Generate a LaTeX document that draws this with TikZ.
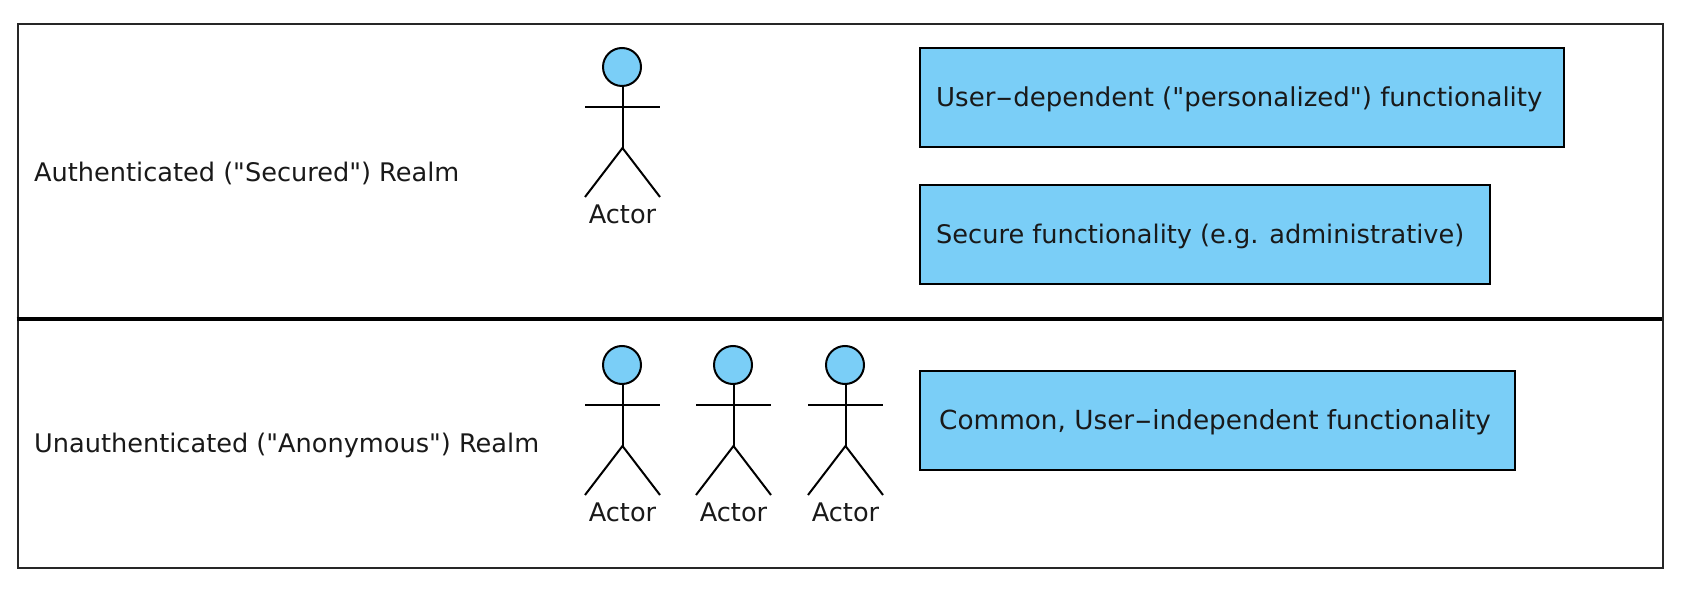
\documentclass[tikz,border=0pt]{standalone}
\usepackage{fontspec}
\newfontfamily\lblfont{DejaVu Sans}
\definecolor{fillb}{HTML}{7ACEF7}
\newcommand{\widehy}{\scalebox{1.9}[1]{-}}
\tikzset{
 lbl/.style={inner sep=0pt,font=\lblfont\fontsize{25.6}{30}\selectfont,text=black!90},
 lblb/.style={lbl,font=\lblfont\fontsize{26}{30}\selectfont},
 lblc/.style={lbl,font=\lblfont\fontsize{26.3}{30}\selectfont},
 box/.style={draw=black,line width=2pt,fill=fillb,minimum height=99pt,anchor=north west,inner sep=0pt},
 limb/.style={draw=black,line width=2pt},
}
\newcommand{\actorfig}[3]{%
 \node[circle,draw=black,line width=2pt,fill=fillb,minimum size=38pt,inner sep=0pt] (#3h) at (#1,#2+20) {};
 \coordinate (#3n) at (#1+0.5,#2+101);
 \coordinate (#3s) at (#1+0.5,#2+39);
 \coordinate (#3l) at (#1-37,#2+60);
 \coordinate (#3r) at (#1+38,#2+60);
 \coordinate (#3a) at (#1-37,#2+150);
 \coordinate (#3b) at (#1+38,#2+150);
 \draw[limb] (#3s) -- (#3n);
 \draw[limb] (#3l) -- (#3r);
 \draw[limb] (#3a) -- (#3n) -- (#3b);
 \node[lbl] (#3t) at (#1+0.5,#2+167) {Actor};
}
\begin{document}
\begin{tikzpicture}[x=1pt,y=-1pt]
\useasboundingbox[fill=white] (0,0) rectangle (1684,593);
\node[draw=black!85,line width=2pt,minimum width=1645.3pt,minimum height=543.7pt,anchor=north west,inner sep=0pt] (frame) at (16.7,23) {};
\coordinate (divl) at (16.7,319);
\coordinate (divr) at (1662,319);
\draw[black,line width=4.5pt] (divl) -- (divr);
\node[lbl,anchor=west] (t1) at (34,173) {Authenticated ("Secured") Realm};
\node[lbl,anchor=west] (t2) at (34,445) {Unauthenticated ("Anonymous") Realm};
\actorfig{622}{47}{a}
\actorfig{622}{345}{b}
\actorfig{733}{345}{c}
\actorfig{845}{345}{d}
\node[box,minimum width=644pt] (b1) at (919,47.5) {};
\node[lblb,anchor=west] (b1t) at (936,99) {User\widehy dependent ("personalized") functionality};
\node[box,minimum width=570pt] (b2) at (919,184) {};
\node[lbl,anchor=west] (b2t) at (936,236) {Secure functionality (e.g. administrative)};
\node[box,minimum width=595pt] (b3) at (919,370) {};
\node[lblc,anchor=west] (b3t) at (939,422) {Common, User\widehy independent functionality};
\end{tikzpicture}
\end{document}
